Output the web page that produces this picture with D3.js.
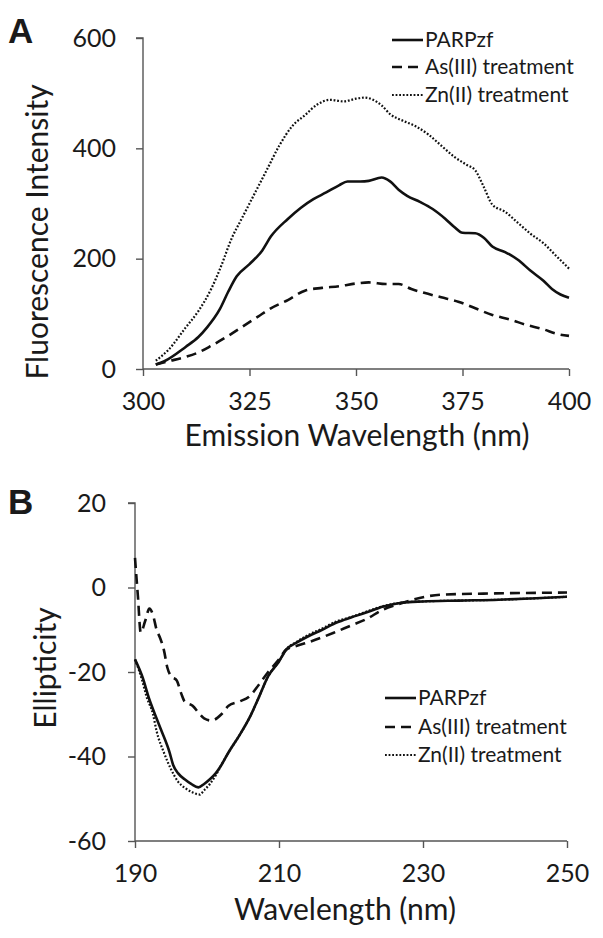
<!DOCTYPE html>
<html><head><meta charset="utf-8">
<script src="https://cdn.jsdelivr.net/npm/d3@7"></script>
<style>
body{margin:0;background:#fff;}
text{font-family:Lato,"Open Sans",sans-serif;fill:#1a1a1a;}
</style></head>
<body>
<svg id="c" width="603" height="938"></svg>
<script>
// ---- Panel A data: fluorescence emission ----
const seriesNames = ["PARPzf", "As(III) treatment", "Zn(II) treatment"];
const aTicksX = [300, 325, 350, 375, 400];
const aTicksY = [0, 200, 400, 600];
const aParpWl = [303,305,310,313,315,318,320,322,325,328,330,334,337,340,343,346,348,351,353,356,358,360,362,365,368,371,373,375,378,380,382,385,388,391,394,396,398,400];
const aParpVal = [8,14,40,58,75,108,140,168,190,215,240,272,292,308,320,333,340,340,341,347,340,325,314,303,290,272,258,247,246,238,222,212,198,178,160,145,135,129];
const aAsWl = [303,306,310,313,316,320,324,327,330,334,338,342,346,350,353,357,360,363,366,370,374,378,382,386,390,394,397,400];
const aAsVal = [8,14,22,30,42,60,80,95,110,125,142,147,150,155,157,154,154,145,138,130,122,110,98,90,80,72,64,60];
const aZnWl = [303,306,310,313,316,318,321,323,326,329,332,335,338,341,344,347,350,352,354,356,358,361,364,367,370,373,376,378,380,382,385,388,391,394,397,400];
const aZnVal = [15,35,75,105,145,180,240,270,315,360,405,440,460,480,488,485,490,492,488,478,462,450,440,425,405,385,370,360,330,298,285,265,245,228,205,182];

// ---- Panel B data: CD spectra ----
const bTicksX = [190, 210, 230, 250];
const bTicksY = [-60, -40, -20, 0, 20];
const bParpWl = [190,191,192,193,193.7,194.8,195.3,196,196.9,197.8,198.8,199.6,200.4,201.2,202,203,204.5,206,207.2,208.5,210,211,212.5,214,216,218,220,222,224.5,227,230,235,240.5,245,250];
const bParpVal = [-17,-21,-26.5,-31,-34,-39,-42,-44,-45.4,-46.5,-47.3,-46.5,-45.4,-44,-42,-39,-35,-30.5,-26,-21,-17.5,-14.7,-13,-11.6,-10,-8.3,-7.1,-6,-4.5,-3.6,-3.3,-3.1,-2.9,-2.6,-2.2];
const bAsWl = [190,190.4,190.8,191.4,192,192.5,193,193.5,194,194.5,195,195.8,196.4,196.9,198,199,199.6,200.6,202,203,204.5,206,207.2,208.5,210,211,212.5,214,217.6,220,222,224.5,226.5,228.8,232.5,240,250];
const bAsVal = [7,-2,-10.7,-8,-5,-6.5,-10,-12,-14.7,-19,-21,-22,-25,-27,-28,-30,-31,-31.5,-30,-28,-27,-25.6,-23,-20,-17,-14.7,-13.8,-13,-10.7,-9,-7.6,-5.2,-4,-2.8,-1.7,-1.4,-1.2];
const bZnWl = [190,191,191.6,192.5,193,194,195,196,197,198,199,199.6,200.4,201.2,202,203,204.5,206,207.2,208.5,210,211,212.5,214,216,218,220,222,224.5,227,230,235,240.5,245,250];
const bZnVal = [-17,-22,-25.8,-30,-34,-39,-43,-46,-47.5,-48.5,-49,-48,-46.5,-44.5,-42,-39,-35,-30.5,-26,-21,-17.5,-14.7,-12.8,-11.3,-9.7,-8,-7,-5.8,-4.4,-3.6,-3.3,-3.1,-2.9,-2.6,-2.2];

const styles = [
  {dash:null, w:2.6},
  {dash:"10,6", w:2.6},
  {dash:"1.8,1.8", w:2.2}
];

const svg = d3.select("#c");
const axisColor = "#555";

function zip(a,b){return a.map((x,i)=>[x,b[i]]);}

function panel(opt){
  const g = svg.append("g");
  const x = d3.scaleLinear().domain(opt.xd).range([opt.x0, opt.x1]);
  const y = d3.scaleLinear().domain(opt.yd).range([opt.y0, opt.y1]);
  const fmt = d => String(d);
  const xa = g.append("g").attr("transform",`translate(0,${y(opt.xAxisAt)})`)
    .call(d3.axisBottom(x).tickValues(opt.tx).tickSize(7).tickPadding(opt.xPad).tickFormat(fmt));
  const ya = g.append("g").attr("transform",`translate(${x(opt.xd[0])},0)`)
    .call(d3.axisLeft(y).tickValues(opt.ty).tickSize(7).tickPadding(opt.yPad).tickFormat(fmt));
  [xa,ya].forEach(a=>{
    a.select(".domain").attr("stroke",axisColor).attr("stroke-width",1.4);
    a.selectAll(".tick line").attr("stroke",axisColor).attr("stroke-width",1.4);
    a.selectAll(".tick text").style("font-family","Lato, sans-serif").style("font-size",opt.tickFs+"px").attr("fill","#1a1a1a");
  });
  ya.select(".domain").attr("d",`M-7,${y(opt.yd[1])}H0V${y(opt.yd[0])}`);
  xa.select(".domain").attr("d",`M${opt.x0},0H${opt.x1}`);
  const line = d3.line().x(d=>x(d[0])).y(d=>y(d[1])).curve(d3.curveMonotoneX);
  opt.series.forEach((s,i)=>{
    g.append("path").datum(s).attr("d",line).attr("fill","none")
      .attr("stroke","#111").attr("stroke-width",styles[i].w)
      .attr("stroke-dasharray",styles[i].dash).attr("stroke-linejoin","round");
  });
  seriesNames.forEach((n,i)=>{
    const ly = opt.ly[i];
    g.append("line").attr("x1",opt.lx).attr("x2",opt.lx+31).attr("y1",ly).attr("y2",ly)
      .attr("stroke","#111").attr("stroke-width",styles[i].w).attr("stroke-dasharray",styles[i].dash);
    g.append("text").attr("x",opt.lx+33).attr("y",ly).attr("dy","0.35em")
      .style("font-size",opt.lfs+"px").text(n);
  });
  g.append("text").attr("x",opt.xtX).attr("y",opt.xtY).attr("text-anchor","middle")
    .style("font-size",opt.titleFs+"px").text(opt.xTitle);
  g.append("text").attr("transform",`translate(${opt.ytX},${opt.ytY}) rotate(-90)`).attr("text-anchor","middle")
    .style("font-size",opt.titleFs+"px").text(opt.yTitle);
  g.append("text").attr("x",8).attr("y",opt.letterY).style("font-size","35px").style("font-weight","900")
    .style("font-family","'Liberation Sans', Arial, sans-serif").attr("fill","#111").text(opt.letter);
}

panel({
  xd:[300,400], yd:[0,600], x0:143, x1:569, y0:369, y1:38, xAxisAt:0,
  tx:aTicksX, ty:aTicksY, tickFs:25, xPad:16, yPad:20,
  series:[zip(aParpWl,aParpVal), zip(aAsWl,aAsVal), zip(aZnWl,aZnVal)],
  lx:392, ly:[40,67,95], lfs:21,
  xTitle:"Emission Wavelength (nm)", xtX:357, xtY:446, titleFs:30,
  yTitle:"Fluorescence Intensity", ytX:48, ytY:232,
  letter:"A", letterY:43
});

panel({
  xd:[190,250], yd:[-60,20], x0:135, x1:567, y0:841, y1:503, xAxisAt:-60,
  tx:bTicksX, ty:bTicksY, tickFs:25, xPad:16, yPad:22,
  series:[zip(bParpWl,bParpVal), zip(bAsWl,bAsVal), zip(bZnWl,bZnVal)],
  lx:385, ly:[698,727,755], lfs:21,
  xTitle:"Wavelength (nm)", xtX:345, xtY:920, titleFs:30,
  yTitle:"Ellipticity", ytX:56, ytY:668,
  letter:"B", letterY:514
});
</script>
</body></html>
